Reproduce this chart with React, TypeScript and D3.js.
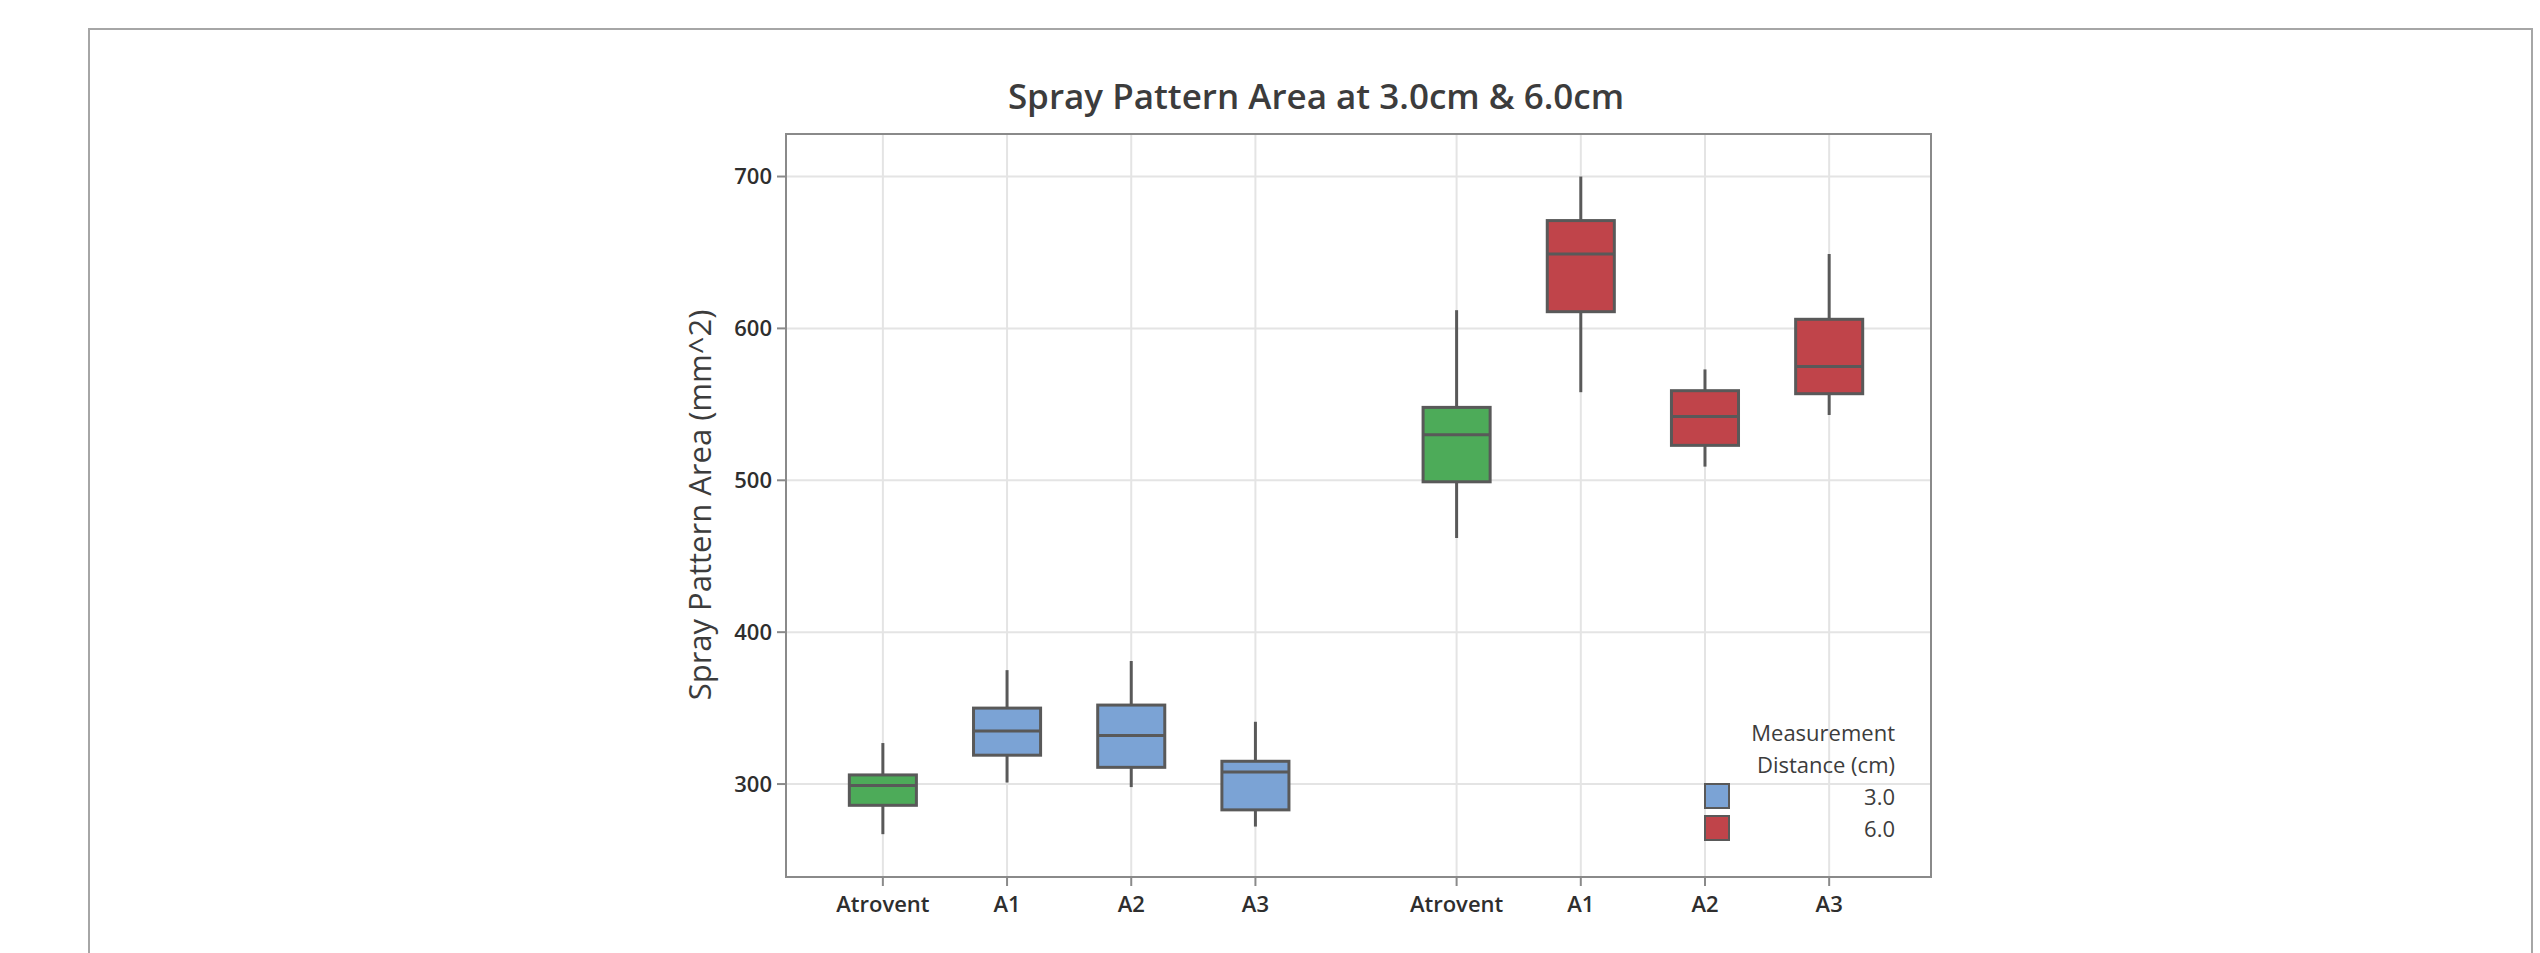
import React from 'react'
import * as d3 from 'd3'

const categories = ['Atrovent', 'A1', 'A2', 'A3', 'Atrovent', 'A1', 'A2', 'A3']
const distances = ['3.0', '3.0', '3.0', '3.0', '6.0', '6.0', '6.0', '6.0']
const whiskerLow = [267, 301, 298, 272, 462, 558, 509, 543]
const q1 = [286, 319, 311, 283, 499, 611, 523, 557]
const median = [299, 335, 332, 308, 530, 649, 542, 575]
const q3 = [306, 350, 352, 315, 548, 671, 559, 606]
const whiskerHigh = [327, 375, 381, 341, 612, 700, 573, 649]
const yTicks = [300, 400, 500, 600, 700]
const legendItems = ['3.0', '6.0']

const W = 2540
const H = 953
const plot = { left: 786, right: 1931, top: 134, bottom: 877 }

const colors: Record<string, string> = { '3.0': '#7ba3d5', '6.0': '#c0444a' }
const refColor = '#4dab59'
const edge = '#595959'
const font = '"Open Sans", "Noto Sans", sans-serif'

export default function App() {
  // slot index, with an extra gap between the two distance groups
  const slot = (i: number) => i + (distances[i] === '6.0' ? 0.62 : 0)

  const x = d3.scaleLinear().domain([-0.78, 8.44]).range([plot.left, plot.right])
  const y = d3.scaleLinear().domain([238.8, 728]).range([plot.bottom, plot.top])
  const boxW = x(0.54) - x(0)

  const fillFor = (i: number) => (categories[i] === 'Atrovent' ? refColor : colors[distances[i]])

  return (
    <svg width={W} height={H} style={{ position: 'absolute', left: 0, top: 0, background: '#fff' }}>
      {/* outer frame */}
      <rect x={89} y={29} width={2443} height={H + 20} fill="none" stroke="#a6a6a6" strokeWidth={2} />

      <text x={1316} y={109} textAnchor="middle" fontFamily={font} fontSize={35} fontWeight={600} fill="#3c3c3c">
        Spray Pattern Area at 3.0cm &amp; 6.0cm
      </text>

      {/* gridlines */}
      {yTicks.map(t => (
        <line key={'gy' + t} x1={plot.left} x2={plot.right} y1={y(t)} y2={y(t)} stroke="#e4e4e4" strokeWidth={2} />
      ))}
      {categories.map((c, i) => (
        <line key={'gx' + i} x1={x(slot(i))} x2={x(slot(i))} y1={plot.top} y2={plot.bottom} stroke="#e4e4e4" strokeWidth={2} />
      ))}

      {/* boxes */}
      {categories.map((c, i) => {
        const cx = x(slot(i))
        return (
          <g key={'b' + i}>
            <line x1={cx} x2={cx} y1={y(whiskerHigh[i])} y2={y(q3[i])} stroke={edge} strokeWidth={3} />
            <line x1={cx} x2={cx} y1={y(q1[i])} y2={y(whiskerLow[i])} stroke={edge} strokeWidth={3} />
            <rect x={cx - boxW / 2} y={y(q3[i])} width={boxW} height={y(q1[i]) - y(q3[i])}
              fill={fillFor(i)} stroke={edge} strokeWidth={3} />
            <line x1={cx - boxW / 2} x2={cx + boxW / 2} y1={y(median[i])} y2={y(median[i])} stroke={edge} strokeWidth={3} />
          </g>
        )
      })}

      {/* plot frame */}
      <rect x={plot.left} y={plot.top} width={plot.right - plot.left} height={plot.bottom - plot.top}
        fill="none" stroke="#8a8a8a" strokeWidth={2} />

      {/* y axis */}
      {yTicks.map(t => (
        <g key={'yt' + t}>
          <line x1={plot.left - 9} x2={plot.left} y1={y(t)} y2={y(t)} stroke="#8a8a8a" strokeWidth={2} />
          <text x={plot.left - 14} y={y(t)} dy="0.35em" textAnchor="end" fontFamily={font} fontSize={22} fontWeight={600} fill="#2e2e2e">
            {t}
          </text>
        </g>
      ))}
      <text transform={`translate(700,505) rotate(-90)`} dy="0.35em" textAnchor="middle" fontFamily={font} fontSize={31} fill="#3c3c3c">
        Spray Pattern Area (mm^2)
      </text>

      {/* x axis */}
      {categories.map((c, i) => (
        <g key={'xt' + i}>
          <line x1={x(slot(i))} x2={x(slot(i))} y1={plot.bottom} y2={plot.bottom + 9} stroke="#8a8a8a" strokeWidth={2} />
          <text x={x(slot(i))} y={912} textAnchor="middle" fontFamily={font} fontSize={22} fontWeight={600} fill="#2e2e2e">
            {c}
          </text>
        </g>
      ))}

      {/* legend */}
      <text x={1895} y={741} textAnchor="end" fontFamily={font} fontSize={22} fill="#3c3c3c">Measurement</text>
      <text x={1895} y={773} textAnchor="end" fontFamily={font} fontSize={22} fill="#3c3c3c">Distance (cm)</text>
      {legendItems.map((d, k) => (
        <g key={'lg' + d}>
          <rect x={1705} y={784 + k * 32} width={24} height={24} fill={colors[d]} stroke={edge} strokeWidth={2} />
          <text x={1895} y={805 + k * 32} textAnchor="end" fontFamily={font} fontSize={22} fill="#3c3c3c">{d}</text>
        </g>
      ))}
    </svg>
  )
}
